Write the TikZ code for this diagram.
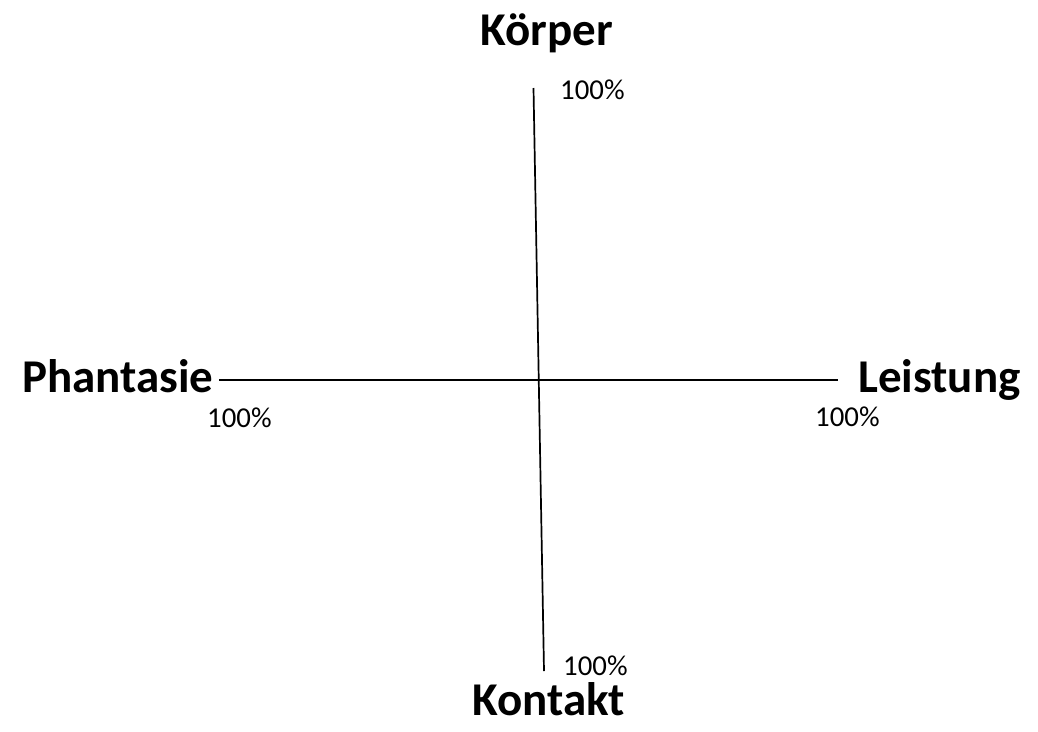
\documentclass[tikz,border=0pt]{standalone}
\usepackage{fontspec}
\setmainfont{Carlito}
\begin{document}
\begin{tikzpicture}[x=1pt,y=-1pt,
  axislabel/.style={font=\fontsize{47}{50}\selectfont\bfseries, inner sep=0pt, anchor=base west},
  pct/.style={font=\fontsize{28.8}{32}\selectfont, inner sep=0pt, anchor=base west},
  axisline/.style={line width=1.7pt, black}]
\useasboundingbox (0,0) rectangle (1038,731);
\node[axislabel] (koerper) at (480,45) {Körper};
\node[axislabel] (phantasie) at (22,392) {Phantasie};
\node[axislabel] (leistung) at (858,392) {Leistung};
\node[axislabel] (kontakt) at (472,715) {Kontakt};
\node[pct] (pTop) at (560,99) {100\%};
\node[pct] (pLeft) at (207,427) {100\%};
\node[pct] (pRight) at (815,426) {100\%};
\node[pct] (pBottom) at (563,675) {100\%};
\coordinate (vTop) at (533.5,88);
\coordinate (vBot) at (544,671);
\coordinate (hLeft) at (219,380);
\coordinate (hRight) at (838,380);
\draw[axisline] (vTop) -- (vBot);
\draw[axisline] (hLeft) -- (hRight);
\end{tikzpicture}
\end{document}
